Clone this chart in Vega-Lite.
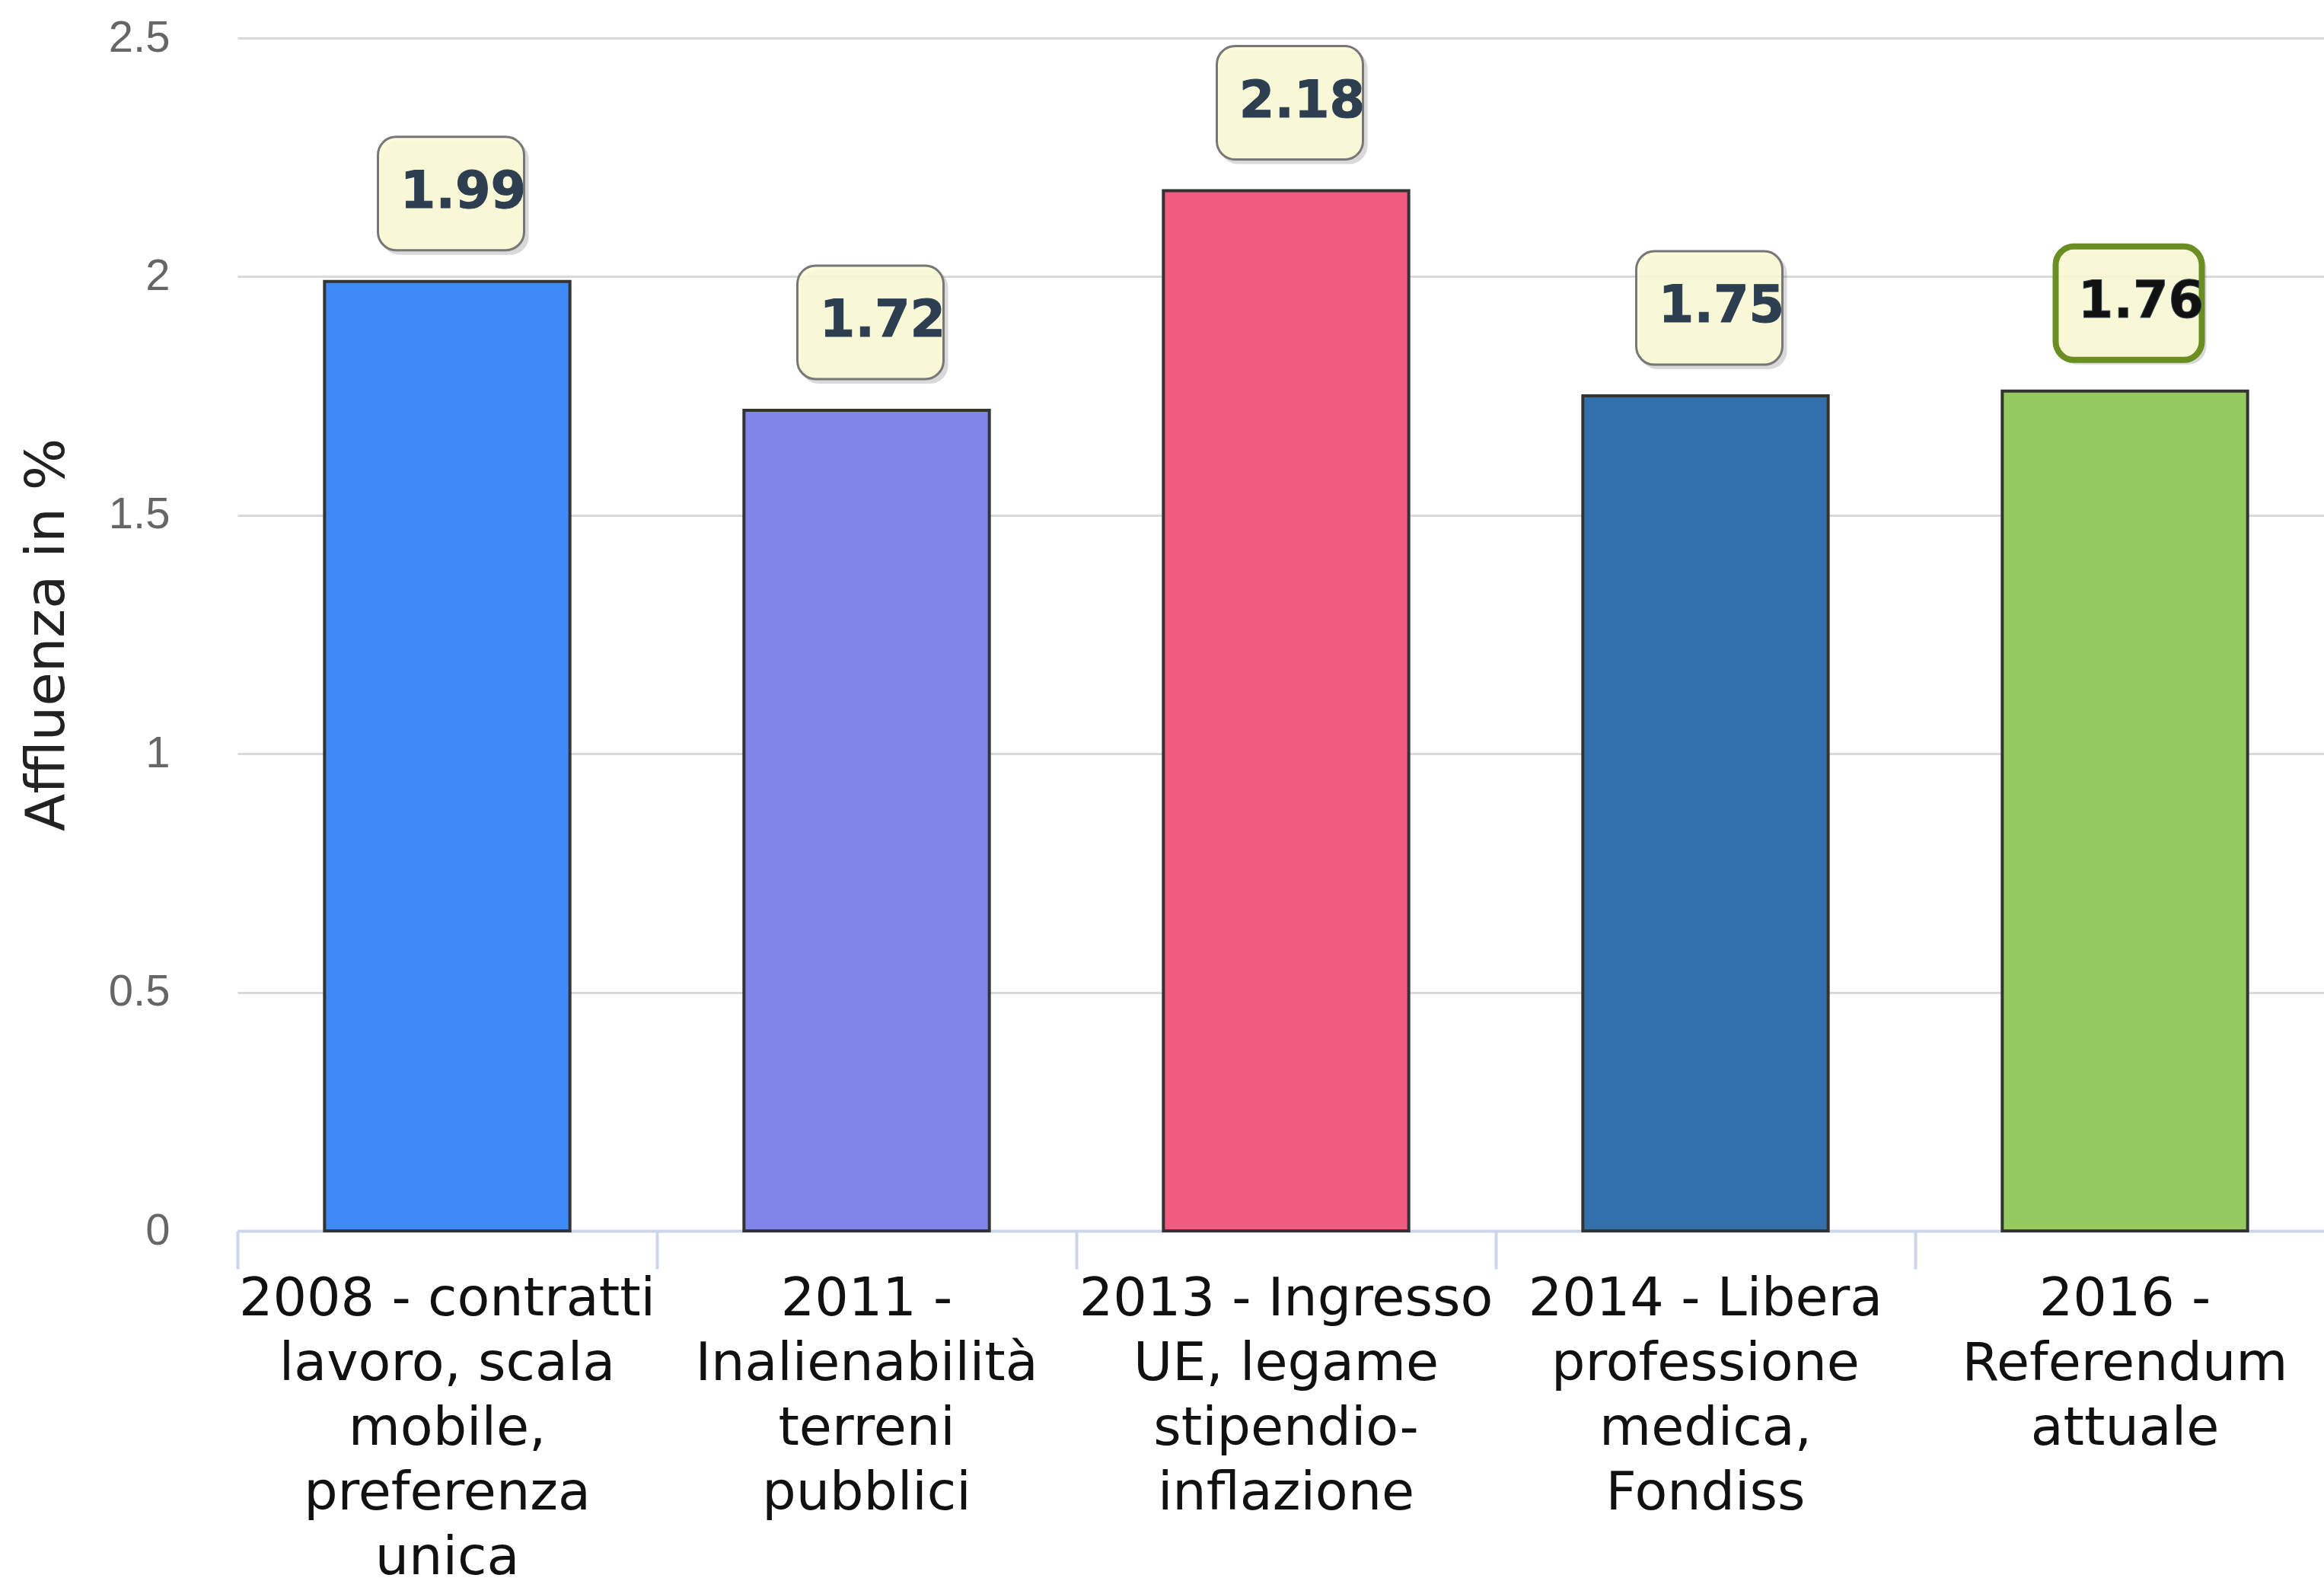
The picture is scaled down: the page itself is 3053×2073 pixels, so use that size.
{
  "$schema": "https://vega.github.io/schema/vega-lite/v6.json",
  "autosize": "none",
  "padding": {"left": 312, "top": 50, "right": 0, "bottom": 456},
  "width": 2741,
  "height": 1567,
  "background": "#ffffff",
  "config": {"view": {"stroke": null}},
  "data": {
    "values": [
      {"cat": "2008 - contratti\nlavoro, scala\nmobile,\npreferenza\nunica", "affluenza": 1.99},
      {"cat": "2011 -\nInalienabilità\nterreni\npubblici", "affluenza": 1.72},
      {"cat": "2013 - Ingresso\nUE, legame\nstipendio-\ninflazione", "affluenza": 2.18},
      {"cat": "2014 - Libera\nprofessione\nmedica,\nFondiss", "affluenza": 1.75},
      {"cat": "2016 -\nReferendum\nattuale", "affluenza": 1.76}
    ]
  },
  "encoding": {
    "x": {
      "field": "cat", "type": "nominal", "sort": null,
      "scale": {"paddingInner": 0, "paddingOuter": 0, "range": [0, 2755]},
      "axis": {
        "title": null, "orient": "bottom", "grid": false,
        "domainColor": "#ccd6eb", "domainWidth": 4,
        "tickColor": "#ccd6eb", "tickWidth": 4, "tickSize": 50, "bandPosition": 0,
        "labelAngle": 0, "labelFont": "DejaVu Sans", "labelFontSize": 70, "labelColor": "#111111",
        "labelLineHeight": 85, "labelBaseline": "top", "labelAlign": "center", "labelPadding": 5,
        "labelLimit": 0, "labelOverlap": false,
        "labelExpr": "split(datum.value, '\\n')"
      }
    }
  },
  "layer": [
    {
      "mark": {"type": "bar", "width": {"band": 0.585}, "stroke": "#333333", "strokeWidth": 4},
      "encoding": {
        "y": {
          "field": "affluenza", "type": "quantitative",
          "scale": {"domain": [0, 2.5], "nice": false},
          "axis": {
            "title": "Affluenza in %", "titleFont": "DejaVu Sans", "titleFontSize": 72,
            "titleFontWeight": "normal", "titleColor": "#222222", "titlePadding": 44,
            "values": [0, 0.5, 1, 1.5, 2, 2.5], "format": "~g",
            "labelFont": "Liberation Sans", "labelFontSize": 58, "labelColor": "#666666",
            "labelPadding": 89, "ticks": false, "tickSize": 0, "domain": false,
            "gridColor": "#d9d9d9", "gridWidth": 3
          }
        },
        "color": {
          "field": "cat", "type": "nominal", "legend": null,
          "scale": {
            "domain": [
              "2008 - contratti\nlavoro, scala\nmobile,\npreferenza\nunica",
              "2011 -\nInalienabilità\nterreni\npubblici",
              "2013 - Ingresso\nUE, legame\nstipendio-\ninflazione",
              "2014 - Libera\nprofessione\nmedica,\nFondiss",
              "2016 -\nReferendum\nattuale"
            ],
            "range": ["#3e8af7", "#8085e9", "#f15c80", "#3170ab", "#95ca60"]
          }
        }
      }
    },
    {
      "mark": {"type": "bar", "width": 194, "cornerRadius": 24, "fill": "#000000", "opacity": 0.15,
               "xOffset": 10, "yOffset": -35, "y2Offset": -185},
      "encoding": {
        "y": {"field": "affluenza", "type": "quantitative"},
        "y2": {"field": "affluenza"}
      }
    },
    {
      "mark": {"type": "bar", "width": 192, "cornerRadius": 24, "fill": "#fcfcd6", "fillOpacity": 0.88,
               "xOffset": 5, "yOffset": -41, "y2Offset": -190},
      "encoding": {
        "y": {"field": "affluenza", "type": "quantitative"},
        "y2": {"field": "affluenza"},
        "stroke": {"condition": {"test": "indexof(datum.cat, '2016') == 0", "value": "#6b8e23"}, "value": "#777777"},
        "strokeWidth": {"condition": {"test": "indexof(datum.cat, '2016') == 0", "value": 8}, "value": 3}
      }
    },
    {
      "mark": {"type": "text", "font": "DejaVu Sans", "fontSize": 67, "fontWeight": "bold",
               "align": "center", "baseline": "alphabetic", "xOffset": 21, "yOffset": -97,
               "stroke": "#2c3e50", "strokeWidth": 1},
      "encoding": {
        "y": {"field": "affluenza", "type": "quantitative"},
        "text": {"field": "affluenza", "type": "quantitative", "format": ".2f"},
        "fill": {"condition": {"test": "indexof(datum.cat, '2016') == 0", "value": "#111111"}, "value": "#2c3e50"}
      }
    }
  ]
}
